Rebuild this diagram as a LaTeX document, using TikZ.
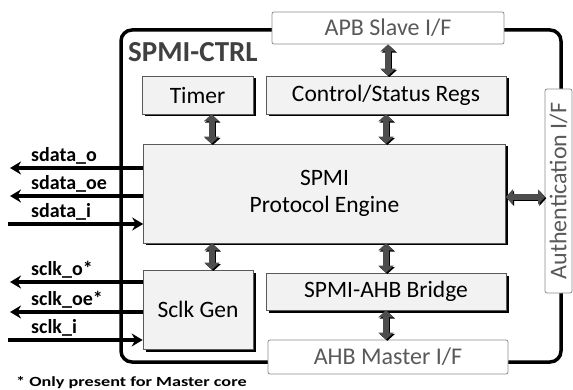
\documentclass[tikz,border=0pt]{standalone}
\usepackage{fontspec}
\usepackage{graphicx}
\setmainfont{Carlito}
\usetikzlibrary{arrows.meta}
\definecolor{boxfill}{HTML}{F2F2F2}
\definecolor{ifgray}{HTML}{595959}
\definecolor{ifborder}{HTML}{8C8C8C}
\definecolor{arrgray}{HTML}{4D4D4D}
\definecolor{titlegray}{HTML}{404040}
\begin{document}
\begin{tikzpicture}[x=1pt,y=-1pt,
  blk/.style={draw=black!65, line width=0.6pt, fill=boxfill, inner sep=0pt, align=center,
    font=\fontsize{23.5}{27}\selectfont,
    preaction={fill=black, transform canvas={xshift=2.5pt,yshift=-2.5pt}}},
  ifbox/.style={draw=ifborder, line width=0.8pt, fill=white, rounded corners=2pt, inner sep=0pt,
    text=ifgray, font=\fontsize{24}{28}\selectfont},
  fat/.style={line width=6pt, draw=arrgray,
    {Triangle[width=15pt,length=7pt]}-{Triangle[width=15pt,length=7pt]}},
  fatsh/.style={fat, draw=black, transform canvas={xshift=1.3pt,yshift=-1.3pt}},
  sigout/.style={line width=3.5pt, draw=black, -{Stealth[length=11pt,width=13pt]}},
  siglbl/.style={anchor=base west, inner sep=0pt, font=\bfseries\fontsize{20}{24}\selectfont},
]
\useasboundingbox (0,0) rectangle (573,390);

% outer frame
\node[draw=black, line width=3.5pt, rounded corners=11pt, minimum width=440pt, minimum height=332pt, inner sep=0pt] (frame) at (341,196) {};
\node[anchor=base west, inner sep=0pt, text=titlegray, font=\bfseries\fontsize{29}{32}\selectfont] (title) at (128,62) {SPMI-CTRL};

% interface boxes
\node[ifbox, minimum width=232pt, minimum height=32pt] (apb) at (388,28) {APB Slave I/F};
\node[ifbox, minimum width=240pt, minimum height=34pt] (ahb) at (388,357) {AHB Master I/F};
\node[ifbox, rotate=90, minimum width=204pt, minimum height=27pt] (auth) at (558.5,191) {Authentication I/F};

% inner blocks
\node[blk, minimum width=111pt, minimum height=38pt] (timer) at (197.5,95) {Timer};
\node[blk, minimum width=240pt, minimum height=38pt] (regs) at (386,95) {Control/Status Regs};
\node[blk, minimum width=362pt, minimum height=99pt] (engine) at (324.5,193.5) {SPMI\\Protocol Engine};
\node[blk, minimum width=110pt, minimum height=79pt] (sclk) at (198,309.5) {Sclk Gen};
\node[blk, minimum width=240pt, minimum height=37pt] (bridge) at (386,291.5) {SPMI-AHB Bridge};

% fat double arrows
\draw[fatsh] (apb.south) -- (apb.south |- regs.north);
\draw[fat] (apb.south) -- (apb.south |- regs.north);
\draw[fatsh] ([xshift=14pt]timer.south) -- ([xshift=14pt]timer.south |- engine.north);
\draw[fat] ([xshift=14pt]timer.south) -- ([xshift=14pt]timer.south |- engine.north);
\draw[fatsh] (regs.south) -- (regs.south |- engine.north);
\draw[fat] (regs.south) -- (regs.south |- engine.north);
\draw[fatsh] ([xshift=14pt]sclk.north) -- ([xshift=14pt]sclk.north |- engine.south);
\draw[fat] ([xshift=14pt]sclk.north) -- ([xshift=14pt]sclk.north |- engine.south);
\draw[fatsh] (bridge.north) -- (bridge.north |- engine.south);
\draw[fat] (bridge.north) -- (bridge.north |- engine.south);
\draw[fatsh] (bridge.south) -- (bridge.south |- ahb.north);
\draw[fat] (bridge.south) -- (bridge.south |- ahb.north);
\coordinate (authpt) at (545,197);
\draw[fatsh] (engine.east |- authpt) -- (authpt);
\draw[fat] (engine.east |- authpt) -- (authpt);

% signal endpoints
\coordinate (sdo) at (10,168);
\coordinate (sdoe) at (10,196);
\coordinate (sdi) at (8,224);
\coordinate (sco) at (10,282);
\coordinate (scoe) at (10,312);
\coordinate (sci) at (8,340);

\draw[sigout] (engine.west |- sdo) -- (sdo);
\draw[sigout] (engine.west |- sdoe) -- (sdoe);
\draw[sigout] (sdi) -- (engine.west |- sdi);
\draw[sigout] (sclk.west |- sco) -- (sco);
\draw[sigout] (sclk.west |- scoe) -- (scoe);
\draw[sigout] (sci) -- (sclk.west |- sci);

\node[siglbl] (l1) at (31,161.5) {sdata\_o};
\node[siglbl] (l2) at (31,189.5) {sdata\_oe};
\node[siglbl] (l3) at (31,217.5) {sdata\_i};
\node[siglbl] (l4) at (31,275.5) {sclk\_o*};
\node[siglbl] (l5) at (31,305.5) {sclk\_oe*};
\node[siglbl] (l6) at (31,333.5) {sclk\_i};

\node[anchor=base west, inner sep=0pt, font=\bfseries\fontsize{14}{16}\selectfont] (note) at (16,386) {\scalebox{1.3}[1]{* Only present for Master core}};
\end{tikzpicture}
\end{document}
